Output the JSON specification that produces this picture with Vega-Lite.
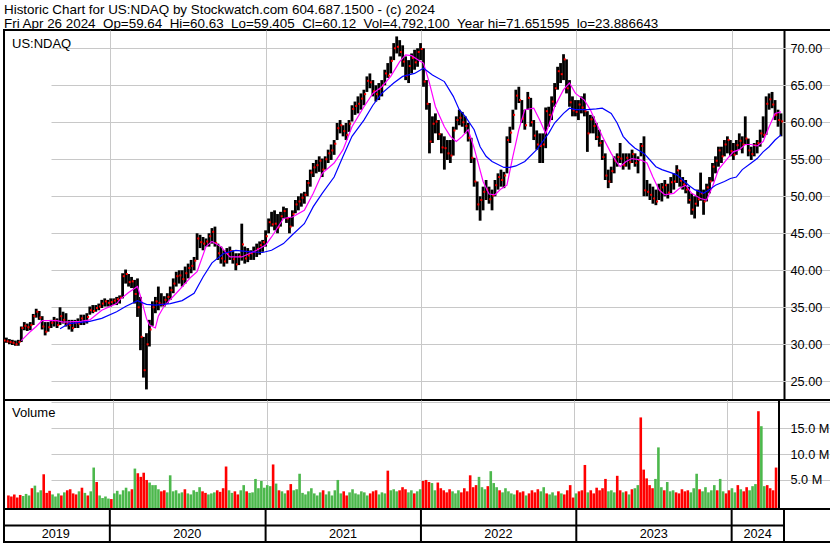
{
"$schema":"https://vega.github.io/schema/vega-lite/v6.json",
"padding":{"left":1,"top":1,"right":1,"bottom":0},
"background":"white",
"spacing":0,
"bounds":"flush",
"config":{"view":{"stroke":"black","strokeWidth":2},"font":"Liberation Sans","axis":{"gridColor":"#c8c8c8","gridWidth":1,"gridOpacity":1,"domain":false,"ticks":false,"tickSize":0,"labelFont":"Liberation Sans","labelFontSize":12.7,"labelColor":"black","labelOverlap":false,"labelFlush":false}},
"datasets":{
"w":[
{"d":"2019-04-26","o":30.7,"h":31.0,"l":30.3,"c":30.5,"v":2.0},
{"d":"2019-05-03","o":30.5,"h":30.9,"l":30.2,"c":30.4,"v":1.8},
{"d":"2019-05-10","o":30.4,"h":30.7,"l":30.0,"c":30.3,"v":2.2},
{"d":"2019-05-17","o":30.3,"h":30.6,"l":29.9,"c":30.2,"v":1.6},
{"d":"2019-05-24","o":30.2,"h":30.5,"l":29.8,"c":30.0,"v":2.1},
{"d":"2019-05-31","o":30.0,"h":30.6,"l":29.8,"c":30.3,"v":1.9},
{"d":"2019-06-07","o":30.3,"h":32.4,"l":30.3,"c":32.2,"v":2.3},
{"d":"2019-06-14","o":32.2,"h":33.0,"l":31.9,"c":32.5,"v":2.0},
{"d":"2019-06-21","o":32.5,"h":32.8,"l":31.8,"c":32.3,"v":3.4},
{"d":"2019-06-28","o":32.3,"h":33.0,"l":31.9,"c":32.6,"v":3.9},
{"d":"2019-07-05","o":32.6,"h":34.1,"l":32.6,"c":33.8,"v":2.6},
{"d":"2019-07-12","o":33.8,"h":34.8,"l":33.6,"c":34.4,"v":3.0},
{"d":"2019-07-19","o":34.4,"h":34.5,"l":33.3,"c":33.6,"v":6.1},
{"d":"2019-07-26","o":33.6,"h":33.8,"l":32.0,"c":32.4,"v":2.5},
{"d":"2019-08-02","o":32.4,"h":33.0,"l":31.2,"c":31.7,"v":2.9},
{"d":"2019-08-09","o":31.7,"h":33.0,"l":31.7,"c":32.3,"v":2.2},
{"d":"2019-08-16","o":32.3,"h":33.3,"l":32.2,"c":32.9,"v":1.8},
{"d":"2019-08-23","o":32.9,"h":33.7,"l":32.4,"c":33.2,"v":2.4},
{"d":"2019-08-30","o":33.2,"h":33.5,"l":32.2,"c":32.6,"v":2.0},
{"d":"2019-09-06","o":32.6,"h":35.0,"l":32.6,"c":33.8,"v":2.6},
{"d":"2019-09-13","o":33.8,"h":34.4,"l":32.8,"c":33.3,"v":3.0},
{"d":"2019-09-20","o":33.3,"h":34.2,"l":32.4,"c":32.7,"v":3.2},
{"d":"2019-09-27","o":32.7,"h":33.3,"l":32.0,"c":32.6,"v":2.4},
{"d":"2019-10-04","o":32.6,"h":33.3,"l":31.7,"c":32.2,"v":2.2},
{"d":"2019-10-11","o":32.2,"h":33.3,"l":32.2,"c":32.9,"v":2.8},
{"d":"2019-10-18","o":32.9,"h":33.5,"l":32.2,"c":32.8,"v":3.5},
{"d":"2019-10-25","o":32.8,"h":34.0,"l":32.6,"c":33.5,"v":2.5},
{"d":"2019-11-01","o":33.5,"h":34.0,"l":32.6,"c":33.1,"v":2.0},
{"d":"2019-11-08","o":33.1,"h":34.2,"l":32.8,"c":33.7,"v":2.8},
{"d":"2019-11-15","o":33.7,"h":35.1,"l":34.0,"c":34.6,"v":7.4},
{"d":"2019-11-22","o":34.6,"h":35.3,"l":34.2,"c":34.5,"v":4.6},
{"d":"2019-11-29","o":34.5,"h":35.3,"l":34.4,"c":34.9,"v":2.0},
{"d":"2019-12-06","o":34.9,"h":35.5,"l":34.6,"c":35.1,"v":1.5},
{"d":"2019-12-13","o":35.1,"h":36.0,"l":34.9,"c":35.5,"v":1.8},
{"d":"2019-12-20","o":35.5,"h":36.2,"l":35.1,"c":35.8,"v":1.4},
{"d":"2019-12-27","o":35.8,"h":36.0,"l":35.1,"c":35.6,"v":1.3},
{"d":"2020-01-03","o":35.6,"h":36.2,"l":35.1,"c":35.7,"v":2.4},
{"d":"2020-01-10","o":35.7,"h":36.2,"l":35.3,"c":35.9,"v":2.9},
{"d":"2020-01-17","o":35.9,"h":36.4,"l":35.3,"c":36.1,"v":2.2},
{"d":"2020-01-24","o":36.1,"h":36.6,"l":35.5,"c":36.3,"v":3.0},
{"d":"2020-01-31","o":36.3,"h":39.6,"l":36.2,"c":39.2,"v":3.5},
{"d":"2020-02-07","o":39.2,"h":40.1,"l":38.2,"c":39.5,"v":2.8},
{"d":"2020-02-14","o":39.5,"h":39.5,"l":37.8,"c":38.4,"v":3.2},
{"d":"2020-02-21","o":38.4,"h":39.1,"l":37.6,"c":38.5,"v":7.2},
{"d":"2020-02-28","o":38.5,"h":38.7,"l":35.5,"c":36.8,"v":6.3},
{"d":"2020-03-06","o":36.8,"h":38.9,"l":33.7,"c":35.0,"v":5.6},
{"d":"2020-03-13","o":35.0,"h":36.4,"l":29.2,"c":31.0,"v":6.4},
{"d":"2020-03-20","o":31.0,"h":31.0,"l":25.5,"c":26.5,"v":5.0},
{"d":"2020-03-27","o":26.5,"h":31.5,"l":23.9,"c":30.0,"v":4.5},
{"d":"2020-04-03","o":30.0,"h":33.3,"l":29.7,"c":32.0,"v":4.0},
{"d":"2020-04-10","o":32.0,"h":35.8,"l":32.5,"c":35.0,"v":4.0},
{"d":"2020-04-17","o":35.0,"h":36.4,"l":34.2,"c":35.8,"v":3.2},
{"d":"2020-04-24","o":35.8,"h":37.8,"l":34.6,"c":35.6,"v":2.8},
{"d":"2020-05-01","o":35.6,"h":36.9,"l":35.1,"c":35.4,"v":3.0},
{"d":"2020-05-08","o":35.4,"h":36.5,"l":35.1,"c":36.0,"v":2.6},
{"d":"2020-05-15","o":36.0,"h":36.9,"l":35.5,"c":36.4,"v":5.9},
{"d":"2020-05-22","o":36.4,"h":37.8,"l":36.0,"c":37.3,"v":2.8},
{"d":"2020-05-29","o":37.3,"h":38.9,"l":36.9,"c":38.2,"v":3.0},
{"d":"2020-06-05","o":38.2,"h":39.8,"l":37.8,"c":39.2,"v":2.4},
{"d":"2020-06-12","o":39.2,"h":40.0,"l":38.2,"c":39.3,"v":2.6},
{"d":"2020-06-19","o":39.3,"h":40.0,"l":37.8,"c":38.8,"v":3.2},
{"d":"2020-06-26","o":38.8,"h":40.5,"l":38.2,"c":39.6,"v":2.4},
{"d":"2020-07-03","o":39.6,"h":40.9,"l":38.9,"c":40.3,"v":2.2},
{"d":"2020-07-10","o":40.3,"h":41.4,"l":39.6,"c":40.6,"v":3.0},
{"d":"2020-07-17","o":40.6,"h":41.8,"l":40.0,"c":41.3,"v":2.7},
{"d":"2020-07-24","o":41.3,"h":45.0,"l":41.4,"c":44.3,"v":3.6},
{"d":"2020-07-31","o":44.3,"h":44.8,"l":43.0,"c":43.8,"v":2.8},
{"d":"2020-08-07","o":43.8,"h":44.5,"l":42.7,"c":43.6,"v":2.5},
{"d":"2020-08-14","o":43.6,"h":44.3,"l":43.2,"c":43.9,"v":2.2},
{"d":"2020-08-21","o":43.9,"h":45.0,"l":43.2,"c":44.6,"v":2.4},
{"d":"2020-08-28","o":44.6,"h":45.7,"l":43.6,"c":45.2,"v":2.6},
{"d":"2020-09-04","o":45.2,"h":45.9,"l":43.2,"c":43.7,"v":3.0},
{"d":"2020-09-11","o":43.7,"h":43.6,"l":41.4,"c":42.3,"v":2.7},
{"d":"2020-09-18","o":42.3,"h":43.2,"l":40.9,"c":41.6,"v":3.4},
{"d":"2020-09-25","o":41.6,"h":42.7,"l":40.5,"c":41.2,"v":7.6},
{"d":"2020-10-02","o":41.2,"h":43.0,"l":40.9,"c":42.2,"v":3.0},
{"d":"2020-10-09","o":42.2,"h":43.2,"l":41.4,"c":42.6,"v":2.5},
{"d":"2020-10-16","o":42.6,"h":42.7,"l":40.9,"c":41.5,"v":2.8},
{"d":"2020-10-23","o":41.5,"h":42.3,"l":40.0,"c":40.8,"v":2.2},
{"d":"2020-10-30","o":40.8,"h":42.3,"l":40.7,"c":41.9,"v":3.0},
{"d":"2020-11-06","o":41.9,"h":46.3,"l":41.3,"c":43.5,"v":4.0},
{"d":"2020-11-13","o":43.5,"h":43.2,"l":40.9,"c":41.6,"v":2.8},
{"d":"2020-11-20","o":41.6,"h":43.0,"l":41.1,"c":42.0,"v":2.5},
{"d":"2020-11-27","o":42.0,"h":42.7,"l":41.4,"c":42.3,"v":2.6},
{"d":"2020-12-04","o":42.3,"h":43.2,"l":41.4,"c":42.5,"v":5.2},
{"d":"2020-12-11","o":42.5,"h":43.6,"l":41.8,"c":42.9,"v":3.4},
{"d":"2020-12-18","o":42.9,"h":43.9,"l":42.1,"c":43.4,"v":4.8},
{"d":"2020-12-25","o":43.4,"h":44.1,"l":42.5,"c":43.8,"v":3.5},
{"d":"2021-01-01","o":43.8,"h":45.4,"l":43.2,"c":44.6,"v":4.0},
{"d":"2021-01-08","o":44.6,"h":47.0,"l":45.0,"c":46.5,"v":3.8},
{"d":"2021-01-15","o":46.5,"h":47.9,"l":45.9,"c":46.2,"v":8.0},
{"d":"2021-01-22","o":46.2,"h":48.1,"l":45.4,"c":46.3,"v":4.3},
{"d":"2021-01-29","o":46.3,"h":47.6,"l":45.0,"c":45.8,"v":3.0},
{"d":"2021-02-05","o":45.8,"h":47.9,"l":45.9,"c":47.3,"v":2.8},
{"d":"2021-02-12","o":47.3,"h":48.6,"l":47.0,"c":48.0,"v":2.4},
{"d":"2021-02-19","o":48.0,"h":48.4,"l":46.4,"c":47.0,"v":3.0},
{"d":"2021-02-26","o":47.0,"h":47.2,"l":45.0,"c":45.9,"v":4.2},
{"d":"2021-03-05","o":45.9,"h":48.1,"l":45.9,"c":47.6,"v":3.0},
{"d":"2021-03-12","o":47.6,"h":49.5,"l":47.7,"c":48.9,"v":3.2},
{"d":"2021-03-19","o":48.9,"h":50.0,"l":48.1,"c":49.3,"v":6.2},
{"d":"2021-03-26","o":49.3,"h":50.4,"l":48.6,"c":49.8,"v":2.5},
{"d":"2021-04-02","o":49.8,"h":50.6,"l":49.0,"c":50.2,"v":2.2},
{"d":"2021-04-09","o":50.2,"h":52.2,"l":50.0,"c":51.8,"v":2.8},
{"d":"2021-04-16","o":51.8,"h":53.6,"l":51.3,"c":53.2,"v":3.4},
{"d":"2021-04-23","o":53.2,"h":54.5,"l":52.6,"c":53.9,"v":2.4},
{"d":"2021-04-30","o":53.9,"h":54.9,"l":53.1,"c":54.2,"v":2.0},
{"d":"2021-05-07","o":54.2,"h":55.4,"l":53.3,"c":54.8,"v":2.6},
{"d":"2021-05-14","o":54.8,"h":55.1,"l":52.6,"c":53.6,"v":3.0},
{"d":"2021-05-21","o":53.6,"h":55.4,"l":53.6,"c":55.0,"v":2.2},
{"d":"2021-05-28","o":55.0,"h":56.3,"l":54.5,"c":55.8,"v":2.8},
{"d":"2021-06-04","o":55.8,"h":57.0,"l":54.9,"c":56.2,"v":2.0},
{"d":"2021-06-11","o":56.2,"h":57.6,"l":55.6,"c":57.1,"v":3.0},
{"d":"2021-06-18","o":57.1,"h":59.9,"l":57.6,"c":59.2,"v":5.0},
{"d":"2021-06-25","o":59.2,"h":60.3,"l":58.5,"c":59.6,"v":2.4},
{"d":"2021-07-02","o":59.6,"h":59.6,"l":58.1,"c":58.8,"v":2.8},
{"d":"2021-07-09","o":58.8,"h":59.9,"l":57.6,"c":58.3,"v":2.0},
{"d":"2021-07-16","o":58.3,"h":60.3,"l":58.7,"c":59.8,"v":2.6},
{"d":"2021-07-23","o":59.8,"h":62.3,"l":60.1,"c":61.8,"v":3.2},
{"d":"2021-07-30","o":61.8,"h":62.8,"l":61.0,"c":62.2,"v":2.4},
{"d":"2021-08-06","o":62.2,"h":63.5,"l":61.2,"c":62.5,"v":2.2},
{"d":"2021-08-13","o":62.5,"h":63.9,"l":61.7,"c":63.2,"v":2.8},
{"d":"2021-08-20","o":63.2,"h":64.4,"l":62.3,"c":63.8,"v":2.6},
{"d":"2021-08-27","o":63.8,"h":66.2,"l":64.1,"c":65.6,"v":2.0},
{"d":"2021-09-03","o":65.6,"h":66.6,"l":64.6,"c":65.4,"v":2.4},
{"d":"2021-09-10","o":65.4,"h":65.7,"l":63.5,"c":64.2,"v":2.8},
{"d":"2021-09-17","o":64.2,"h":65.0,"l":62.8,"c":63.8,"v":3.0},
{"d":"2021-09-24","o":63.8,"h":65.3,"l":63.0,"c":64.5,"v":2.2},
{"d":"2021-10-01","o":64.5,"h":65.7,"l":63.5,"c":65.0,"v":2.6},
{"d":"2021-10-08","o":65.0,"h":67.1,"l":65.0,"c":66.6,"v":2.4},
{"d":"2021-10-15","o":66.6,"h":68.0,"l":66.0,"c":66.3,"v":6.8},
{"d":"2021-10-22","o":66.3,"h":68.9,"l":66.6,"c":68.3,"v":3.0},
{"d":"2021-10-29","o":68.3,"h":70.7,"l":68.4,"c":70.0,"v":3.2},
{"d":"2021-11-05","o":70.0,"h":71.6,"l":69.3,"c":70.2,"v":2.8},
{"d":"2021-11-12","o":70.2,"h":71.1,"l":68.9,"c":69.5,"v":3.0},
{"d":"2021-11-19","o":69.5,"h":70.4,"l":67.5,"c":68.2,"v":3.6},
{"d":"2021-11-26","o":68.2,"h":68.9,"l":65.7,"c":66.3,"v":3.2},
{"d":"2021-12-03","o":66.3,"h":68.4,"l":65.3,"c":67.6,"v":2.6},
{"d":"2021-12-10","o":67.6,"h":69.3,"l":66.6,"c":68.7,"v":3.0},
{"d":"2021-12-17","o":68.7,"h":69.8,"l":67.1,"c":68.1,"v":2.4},
{"d":"2021-12-24","o":68.1,"h":70.0,"l":67.5,"c":69.5,"v":2.8},
{"d":"2021-12-31","o":69.5,"h":70.7,"l":68.4,"c":69.9,"v":3.2},
{"d":"2022-01-07","o":69.9,"h":70.0,"l":64.8,"c":65.5,"v":4.8},
{"d":"2022-01-14","o":65.5,"h":65.7,"l":61.7,"c":62.5,"v":5.0},
{"d":"2022-01-21","o":62.5,"h":62.6,"l":55.8,"c":57.4,"v":4.6},
{"d":"2022-01-28","o":57.4,"h":60.8,"l":57.2,"c":59.8,"v":4.4},
{"d":"2022-02-04","o":59.8,"h":61.2,"l":58.5,"c":60.1,"v":3.0},
{"d":"2022-02-11","o":60.1,"h":60.3,"l":57.6,"c":58.4,"v":4.5},
{"d":"2022-02-18","o":58.4,"h":58.5,"l":55.8,"c":56.6,"v":3.4},
{"d":"2022-02-25","o":56.6,"h":58.1,"l":53.6,"c":56.5,"v":3.0},
{"d":"2022-03-04","o":56.5,"h":57.6,"l":54.9,"c":55.8,"v":2.6},
{"d":"2022-03-11","o":55.8,"h":57.6,"l":54.5,"c":55.5,"v":3.2},
{"d":"2022-03-18","o":55.5,"h":59.4,"l":55.5,"c":58.9,"v":2.8},
{"d":"2022-03-25","o":58.9,"h":60.8,"l":59.0,"c":60.3,"v":2.4},
{"d":"2022-04-01","o":60.3,"h":61.7,"l":59.6,"c":60.6,"v":3.0},
{"d":"2022-04-08","o":60.6,"h":61.4,"l":59.4,"c":60.0,"v":2.6},
{"d":"2022-04-15","o":60.0,"h":60.8,"l":58.5,"c":59.5,"v":3.4},
{"d":"2022-04-22","o":59.5,"h":59.9,"l":57.4,"c":57.9,"v":2.8},
{"d":"2022-04-29","o":57.9,"h":57.9,"l":54.5,"c":55.2,"v":5.9},
{"d":"2022-05-06","o":55.2,"h":55.2,"l":51.3,"c":52.0,"v":3.6},
{"d":"2022-05-13","o":52.0,"h":52.0,"l":48.1,"c":48.9,"v":4.0},
{"d":"2022-05-20","o":48.9,"h":50.0,"l":46.7,"c":49.5,"v":5.6},
{"d":"2022-05-27","o":49.5,"h":51.3,"l":48.1,"c":50.6,"v":3.6},
{"d":"2022-06-03","o":50.6,"h":52.2,"l":49.5,"c":50.9,"v":3.2},
{"d":"2022-06-10","o":50.9,"h":51.3,"l":49.0,"c":49.6,"v":3.8},
{"d":"2022-06-17","o":49.6,"h":50.9,"l":48.1,"c":50.1,"v":6.7},
{"d":"2022-06-24","o":50.1,"h":52.2,"l":50.0,"c":51.5,"v":4.4},
{"d":"2022-07-01","o":51.5,"h":53.1,"l":50.9,"c":52.6,"v":3.6},
{"d":"2022-07-08","o":52.6,"h":53.6,"l":51.3,"c":52.2,"v":3.0},
{"d":"2022-07-15","o":52.2,"h":53.3,"l":51.1,"c":52.8,"v":2.6},
{"d":"2022-07-22","o":52.8,"h":58.1,"l":53.1,"c":57.6,"v":3.4},
{"d":"2022-07-29","o":57.6,"h":59.4,"l":57.2,"c":58.6,"v":2.8},
{"d":"2022-08-05","o":58.6,"h":61.7,"l":59.0,"c":61.0,"v":2.4},
{"d":"2022-08-12","o":61.0,"h":64.4,"l":61.7,"c":63.6,"v":2.2},
{"d":"2022-08-19","o":63.6,"h":64.8,"l":62.6,"c":63.0,"v":3.0},
{"d":"2022-08-26","o":63.0,"h":63.0,"l":59.9,"c":60.5,"v":2.6},
{"d":"2022-09-02","o":60.5,"h":61.7,"l":59.0,"c":59.6,"v":2.8},
{"d":"2022-09-09","o":59.6,"h":64.1,"l":61.7,"c":63.3,"v":2.0},
{"d":"2022-09-16","o":63.3,"h":63.3,"l":59.4,"c":60.0,"v":2.4},
{"d":"2022-09-23","o":60.0,"h":60.3,"l":57.6,"c":58.2,"v":3.0},
{"d":"2022-09-30","o":58.2,"h":58.9,"l":56.3,"c":57.0,"v":2.6},
{"d":"2022-10-07","o":57.0,"h":58.5,"l":54.5,"c":56.8,"v":3.2},
{"d":"2022-10-14","o":56.8,"h":58.5,"l":54.5,"c":57.0,"v":2.8},
{"d":"2022-10-21","o":57.0,"h":62.0,"l":56.5,"c":61.5,"v":3.6},
{"d":"2022-10-28","o":61.5,"h":62.1,"l":59.4,"c":61.0,"v":2.4},
{"d":"2022-11-04","o":61.0,"h":63.5,"l":60.3,"c":62.8,"v":2.2},
{"d":"2022-11-11","o":62.8,"h":65.3,"l":62.1,"c":64.6,"v":2.6},
{"d":"2022-11-18","o":64.6,"h":67.5,"l":64.4,"c":66.9,"v":2.0},
{"d":"2022-11-25","o":66.9,"h":68.0,"l":65.3,"c":66.5,"v":2.8},
{"d":"2022-12-02","o":66.5,"h":69.2,"l":65.7,"c":68.5,"v":2.4},
{"d":"2022-12-09","o":68.5,"h":68.5,"l":63.9,"c":64.6,"v":2.2},
{"d":"2022-12-16","o":64.6,"h":65.7,"l":62.1,"c":62.7,"v":3.0},
{"d":"2022-12-23","o":62.7,"h":63.5,"l":60.8,"c":61.6,"v":4.0},
{"d":"2022-12-30","o":61.6,"h":63.0,"l":60.8,"c":61.4,"v":1.6},
{"d":"2023-01-06","o":61.4,"h":63.0,"l":60.3,"c":62.4,"v":2.4},
{"d":"2023-01-13","o":62.4,"h":63.5,"l":61.2,"c":62.0,"v":2.8},
{"d":"2023-01-20","o":62.0,"h":63.9,"l":60.8,"c":61.5,"v":3.0},
{"d":"2023-01-27","o":61.5,"h":61.5,"l":56.0,"c":58.5,"v":7.9},
{"d":"2023-02-03","o":58.5,"h":61.0,"l":58.5,"c":60.4,"v":2.6},
{"d":"2023-02-10","o":60.4,"h":60.8,"l":58.5,"c":59.5,"v":3.0},
{"d":"2023-02-17","o":59.5,"h":59.9,"l":57.6,"c":58.0,"v":2.4},
{"d":"2023-02-24","o":58.0,"h":59.0,"l":56.7,"c":57.2,"v":3.5},
{"d":"2023-03-03","o":57.2,"h":57.6,"l":54.9,"c":55.3,"v":3.0},
{"d":"2023-03-10","o":55.3,"h":55.8,"l":52.2,"c":52.8,"v":3.4},
{"d":"2023-03-17","o":52.8,"h":53.6,"l":51.1,"c":52.0,"v":5.2},
{"d":"2023-03-24","o":52.0,"h":54.0,"l":51.8,"c":53.4,"v":2.8},
{"d":"2023-03-31","o":53.4,"h":55.4,"l":53.1,"c":54.8,"v":3.0},
{"d":"2023-04-07","o":54.8,"h":55.8,"l":54.0,"c":55.3,"v":2.6},
{"d":"2023-04-14","o":55.3,"h":57.2,"l":54.5,"c":55.1,"v":5.8},
{"d":"2023-04-21","o":55.1,"h":55.8,"l":53.6,"c":54.2,"v":3.0},
{"d":"2023-04-28","o":54.2,"h":55.8,"l":54.0,"c":55.2,"v":2.6},
{"d":"2023-05-05","o":55.2,"h":55.8,"l":53.6,"c":54.6,"v":2.8},
{"d":"2023-05-12","o":54.6,"h":56.3,"l":54.5,"c":55.7,"v":2.2},
{"d":"2023-05-19","o":55.7,"h":55.8,"l":54.0,"c":54.5,"v":3.2},
{"d":"2023-05-26","o":54.5,"h":55.4,"l":53.1,"c":54.9,"v":3.4},
{"d":"2023-06-02","o":54.9,"h":57.2,"l":55.4,"c":56.8,"v":4.0},
{"d":"2023-06-09","o":56.8,"h":58.1,"l":50.0,"c":50.8,"v":17.1},
{"d":"2023-06-16","o":50.8,"h":52.2,"l":50.0,"c":50.6,"v":7.0},
{"d":"2023-06-23","o":50.6,"h":51.7,"l":49.5,"c":50.2,"v":5.3},
{"d":"2023-06-30","o":50.2,"h":51.3,"l":49.0,"c":49.7,"v":4.0},
{"d":"2023-07-07","o":49.7,"h":50.9,"l":48.8,"c":49.3,"v":3.4},
{"d":"2023-07-14","o":49.3,"h":51.7,"l":49.5,"c":50.8,"v":5.2},
{"d":"2023-07-21","o":50.8,"h":51.8,"l":49.3,"c":51.2,"v":11.3},
{"d":"2023-07-28","o":51.2,"h":52.2,"l":50.0,"c":51.5,"v":3.6},
{"d":"2023-08-04","o":51.5,"h":51.7,"l":49.7,"c":50.5,"v":3.0},
{"d":"2023-08-11","o":50.5,"h":52.6,"l":50.4,"c":51.9,"v":4.6},
{"d":"2023-08-18","o":51.9,"h":53.1,"l":50.9,"c":52.0,"v":2.8},
{"d":"2023-08-25","o":52.0,"h":54.2,"l":51.8,"c":53.5,"v":3.0},
{"d":"2023-09-01","o":53.5,"h":53.6,"l":51.3,"c":52.1,"v":2.6},
{"d":"2023-09-08","o":52.1,"h":52.6,"l":50.9,"c":51.6,"v":2.4},
{"d":"2023-09-15","o":51.6,"h":52.2,"l":50.4,"c":50.9,"v":3.2},
{"d":"2023-09-22","o":50.9,"h":51.3,"l":49.0,"c":49.5,"v":2.8},
{"d":"2023-09-29","o":49.5,"h":50.4,"l":47.5,"c":48.2,"v":3.0},
{"d":"2023-10-06","o":48.2,"h":50.0,"l":47.0,"c":49.0,"v":2.6},
{"d":"2023-10-13","o":49.0,"h":50.9,"l":48.6,"c":49.6,"v":3.4},
{"d":"2023-10-20","o":49.6,"h":53.2,"l":49.4,"c":50.4,"v":6.2},
{"d":"2023-10-27","o":50.4,"h":50.9,"l":47.5,"c":49.3,"v":3.2},
{"d":"2023-11-03","o":49.3,"h":51.7,"l":49.3,"c":51.2,"v":2.8},
{"d":"2023-11-10","o":51.2,"h":52.6,"l":50.4,"c":52.0,"v":3.6},
{"d":"2023-11-17","o":52.0,"h":54.5,"l":52.0,"c":54.0,"v":2.6},
{"d":"2023-11-24","o":54.0,"h":55.4,"l":53.1,"c":54.8,"v":3.0},
{"d":"2023-12-01","o":54.8,"h":56.7,"l":54.0,"c":56.2,"v":4.0},
{"d":"2023-12-08","o":56.2,"h":56.7,"l":54.5,"c":55.4,"v":3.0},
{"d":"2023-12-15","o":55.4,"h":57.6,"l":55.4,"c":57.0,"v":5.2},
{"d":"2023-12-22","o":57.0,"h":58.1,"l":55.8,"c":57.6,"v":2.8},
{"d":"2023-12-29","o":57.6,"h":57.6,"l":55.4,"c":56.1,"v":2.4},
{"d":"2024-01-05","o":56.1,"h":57.2,"l":54.9,"c":55.6,"v":3.0},
{"d":"2024-01-12","o":55.6,"h":57.6,"l":55.6,"c":56.9,"v":3.4},
{"d":"2024-01-19","o":56.9,"h":58.5,"l":56.3,"c":57.5,"v":2.6},
{"d":"2024-01-26","o":57.5,"h":58.1,"l":55.8,"c":57.0,"v":4.0},
{"d":"2024-02-02","o":57.0,"h":60.8,"l":57.0,"c":57.8,"v":3.2},
{"d":"2024-02-09","o":57.8,"h":57.8,"l":55.4,"c":56.2,"v":2.8},
{"d":"2024-02-16","o":56.2,"h":56.7,"l":54.9,"c":55.7,"v":3.6},
{"d":"2024-02-23","o":55.7,"h":57.2,"l":55.4,"c":56.9,"v":3.0},
{"d":"2024-03-01","o":56.9,"h":57.6,"l":55.8,"c":57.2,"v":3.8},
{"d":"2024-03-08","o":57.2,"h":59.0,"l":56.7,"c":58.5,"v":4.2},
{"d":"2024-03-15","o":58.5,"h":60.8,"l":57.9,"c":58.3,"v":18.3},
{"d":"2024-03-22","o":58.3,"h":63.5,"l":58.3,"c":62.5,"v":15.4},
{"d":"2024-03-29","o":62.5,"h":63.9,"l":61.7,"c":63.1,"v":3.8},
{"d":"2024-04-05","o":63.1,"h":64.1,"l":61.9,"c":62.4,"v":4.0},
{"d":"2024-04-12","o":62.4,"h":63.0,"l":60.3,"c":61.0,"v":3.4},
{"d":"2024-04-19","o":61.0,"h":61.7,"l":59.4,"c":60.3,"v":3.0},
{"d":"2024-04-26","o":60.3,"h":61.2,"l":58.1,"c":60.12,"v":7.4}
],
"ma1":[
{"d":"2019-06-07","v":30.5},{"d":"2019-06-28","v":31.7},{"d":"2019-07-12","v":32.4},{"d":"2019-07-26","v":33.2},{"d":"2019-08-30","v":33.2},{"d":"2019-09-13","v":33.0},{"d":"2019-10-25","v":33.1},{"d":"2019-11-15","v":33.3},{"d":"2019-12-13","v":34.6},{"d":"2020-01-17","v":35.5},{"d":"2020-01-24","v":36.0},{"d":"2020-02-14","v":37.0},{"d":"2020-03-06","v":37.8},{"d":"2020-03-13","v":36.5},{"d":"2020-03-27","v":33.5},{"d":"2020-04-03","v":32.6},{"d":"2020-04-17","v":32.2},{"d":"2020-04-24","v":33.8},{"d":"2020-05-08","v":35.2},{"d":"2020-06-05","v":36.9},{"d":"2020-07-10","v":39.1},{"d":"2020-07-24","v":39.8},{"d":"2020-08-14","v":43.2},{"d":"2020-08-28","v":43.9},{"d":"2020-09-18","v":43.2},{"d":"2020-10-09","v":41.8},{"d":"2020-11-06","v":41.8},{"d":"2020-12-11","v":42.7},{"d":"2021-01-01","v":43.4},{"d":"2021-01-15","v":44.5},{"d":"2021-02-12","v":47.0},{"d":"2021-03-05","v":47.2},{"d":"2021-04-02","v":48.1},{"d":"2021-04-23","v":50.4},{"d":"2021-05-14","v":53.1},{"d":"2021-06-11","v":54.5},{"d":"2021-07-02","v":56.3},{"d":"2021-07-23","v":59.4},{"d":"2021-08-20","v":62.1},{"d":"2021-09-10","v":63.9},{"d":"2021-10-01","v":64.8},{"d":"2021-10-22","v":66.2},{"d":"2021-11-12","v":68.2},{"d":"2021-11-26","v":69.1},{"d":"2021-12-10","v":69.0},{"d":"2021-12-31","v":68.2},{"d":"2022-01-07","v":68.0},{"d":"2022-01-21","v":65.3},{"d":"2022-02-04","v":62.1},{"d":"2022-02-25","v":59.4},{"d":"2022-03-11","v":58.1},{"d":"2022-03-25","v":57.4},{"d":"2022-04-08","v":58.1},{"d":"2022-04-22","v":59.0},{"d":"2022-05-06","v":56.5},{"d":"2022-05-27","v":52.0},{"d":"2022-06-10","v":50.3},{"d":"2022-06-24","v":50.2},{"d":"2022-07-08","v":51.0},{"d":"2022-07-22","v":51.5},{"d":"2022-08-05","v":55.4},{"d":"2022-08-19","v":59.0},{"d":"2022-09-02","v":61.7},{"d":"2022-09-23","v":61.9},{"d":"2022-10-07","v":60.3},{"d":"2022-10-21","v":58.5},{"d":"2022-10-28","v":59.5},{"d":"2022-11-11","v":62.1},{"d":"2022-12-02","v":64.4},{"d":"2022-12-16","v":65.3},{"d":"2022-12-30","v":63.9},{"d":"2023-01-20","v":63.0},{"d":"2023-02-03","v":61.7},{"d":"2023-02-17","v":59.9},{"d":"2023-03-03","v":58.1},{"d":"2023-03-24","v":55.8},{"d":"2023-04-07","v":54.5},{"d":"2023-04-14","v":54.0},{"d":"2023-04-28","v":54.7},{"d":"2023-05-12","v":55.1},{"d":"2023-06-02","v":54.9},{"d":"2023-06-16","v":54.5},{"d":"2023-06-30","v":52.6},{"d":"2023-07-14","v":50.9},{"d":"2023-07-28","v":50.2},{"d":"2023-08-18","v":50.4},{"d":"2023-09-01","v":51.1},{"d":"2023-09-15","v":51.5},{"d":"2023-09-29","v":50.4},{"d":"2023-10-20","v":49.7},{"d":"2023-11-03","v":49.5},{"d":"2023-11-17","v":51.3},{"d":"2023-12-01","v":53.6},{"d":"2023-12-22","v":55.1},{"d":"2024-01-05","v":56.0},{"d":"2024-01-19","v":56.3},{"d":"2024-02-02","v":57.0},{"d":"2024-02-16","v":57.0},{"d":"2024-03-01","v":56.8},{"d":"2024-03-15","v":57.4},{"d":"2024-03-29","v":59.4},{"d":"2024-04-12","v":61.2},{"d":"2024-04-26","v":61.4}
],
"ma2":[
{"d":"2019-09-06","v":32.1},{"d":"2019-09-27","v":32.8},{"d":"2019-11-15","v":33.1},{"d":"2019-12-13","v":33.5},{"d":"2020-01-17","v":34.4},{"d":"2020-02-07","v":35.1},{"d":"2020-03-06","v":35.9},{"d":"2020-03-27","v":35.4},{"d":"2020-04-17","v":35.3},{"d":"2020-05-22","v":35.5},{"d":"2020-06-19","v":35.9},{"d":"2020-07-17","v":36.9},{"d":"2020-08-07","v":39.1},{"d":"2020-08-28","v":41.0},{"d":"2020-09-25","v":42.3},{"d":"2020-10-23","v":42.7},{"d":"2020-11-27","v":42.5},{"d":"2020-12-25","v":42.4},{"d":"2021-01-15","v":42.7},{"d":"2021-02-12","v":43.6},{"d":"2021-03-05","v":44.8},{"d":"2021-04-02","v":46.3},{"d":"2021-04-23","v":48.6},{"d":"2021-05-14","v":50.4},{"d":"2021-06-11","v":52.6},{"d":"2021-07-02","v":55.4},{"d":"2021-07-23","v":58.1},{"d":"2021-08-20","v":60.3},{"d":"2021-09-10","v":62.3},{"d":"2021-10-01","v":63.9},{"d":"2021-10-29","v":65.3},{"d":"2021-11-19","v":66.2},{"d":"2021-12-17","v":66.6},{"d":"2022-01-07","v":67.3},{"d":"2022-01-28","v":66.4},{"d":"2022-02-25","v":65.5},{"d":"2022-03-18","v":63.5},{"d":"2022-04-01","v":61.7},{"d":"2022-04-15","v":60.8},{"d":"2022-05-06","v":59.0},{"d":"2022-05-20","v":56.7},{"d":"2022-06-03","v":55.4},{"d":"2022-06-17","v":54.7},{"d":"2022-07-15","v":53.9},{"d":"2022-07-29","v":53.9},{"d":"2022-08-12","v":54.1},{"d":"2022-09-02","v":54.7},{"d":"2022-09-30","v":56.3},{"d":"2022-10-14","v":57.4},{"d":"2022-10-28","v":58.5},{"d":"2022-11-11","v":59.9},{"d":"2022-12-02","v":61.2},{"d":"2022-12-16","v":61.9},{"d":"2022-12-30","v":61.7},{"d":"2023-01-27","v":61.7},{"d":"2023-02-17","v":61.8},{"d":"2023-03-03","v":61.9},{"d":"2023-03-24","v":61.2},{"d":"2023-04-07","v":59.9},{"d":"2023-04-21","v":58.1},{"d":"2023-05-05","v":57.2},{"d":"2023-05-19","v":56.5},{"d":"2023-06-09","v":55.8},{"d":"2023-06-23","v":54.9},{"d":"2023-07-07","v":54.0},{"d":"2023-07-21","v":53.6},{"d":"2023-08-11","v":53.2},{"d":"2023-08-25","v":52.9},{"d":"2023-09-08","v":52.2},{"d":"2023-09-22","v":51.5},{"d":"2023-10-06","v":50.9},{"d":"2023-10-27","v":50.4},{"d":"2023-11-10","v":50.9},{"d":"2023-11-24","v":51.5},{"d":"2023-12-15","v":52.0},{"d":"2023-12-29","v":52.4},{"d":"2024-01-12","v":52.6},{"d":"2024-01-26","v":53.6},{"d":"2024-02-16","v":54.5},{"d":"2024-03-01","v":55.1},{"d":"2024-03-15","v":56.0},{"d":"2024-03-29","v":56.7},{"d":"2024-04-12","v":57.6},{"d":"2024-04-26","v":58.3}
],
"years":[
{"yr":"2019","s":"2019-01-01","m":"2019-08-27"},
{"yr":"2020","s":"2020-01-01","m":"2020-07-01"},
{"yr":"2021","s":"2021-01-01","m":"2021-07-02"},
{"yr":"2022","s":"2022-01-01","m":"2022-07-02"},
{"yr":"2023","s":"2023-01-01","m":"2023-07-02"},
{"yr":"2024","s":"2024-01-01","m":"2024-03-02"}
]
},
"vconcat":[
{
"width":827,"height":29,
"data":{"values":[]},
"mark":"point",
"encoding":{},
"title":{"text":["Historic Chart for US:NDAQ by Stockwatch.com 604.687.1500 - (c) 2024","Fri Apr 26 2024 \u00a0Op=59.64 \u00a0Hi=60.63 \u00a0Lo=59.405 \u00a0Cl=60.12 \u00a0Vol=4,792,100 \u00a0Year hi=71.651595 \u00a0lo=23.886643"],"anchor":"start","frame":"group","orient":"top","offset":-29,"font":"Liberation Sans","fontSize":13.4,"fontWeight":"normal","lineHeight":14,"color":"black","dx":0}
},
{
"width":827,"height":370,
"title":{"text":"US:NDAQ","anchor":"start","frame":"group","orient":"top","offset":-20.7,"font":"Liberation Sans","fontSize":13,"fontWeight":"normal","color":"black","dx":8},
"layer":[
{"data":{"name":"w"},"mark":{"type":"rule","color":"black","strokeWidth":2.8,"clip":true},
"encoding":{
"x":{"field":"d","type":"temporal","scale":{"type":"utc","domain":[{"year":2019,"month":4,"date":25,"utc":true},{"year":2024,"month":5,"date":3,"utc":true}],"range":[-1,780],"nice":false},"axis":{"values":[{"year":2020,"month":1,"date":1,"utc":true},{"year":2021,"month":1,"date":1,"utc":true},{"year":2022,"month":1,"date":1,"utc":true},{"year":2023,"month":1,"date":1,"utc":true},{"year":2024,"month":1,"date":1,"utc":true},{"year":2024,"month":5,"date":3,"utc":true}],"grid":true,"gridColor":{"condition":{"test":"datum.value > 1710000000000","value":"black"},"value":"#c8c8c8"},"gridWidth":{"condition":{"test":"datum.value > 1710000000000","value":2},"value":1},"labels":false,"ticks":false,"domain":false,"title":null}},
"y":{"field":"l","type":"quantitative","scale":{"domain":[22.47,72.47],"nice":false,"zero":false},"axis":{"orient":"right","values":[25,27.5,30,32.5,35,37.5,40,42.5,45,47.5,50,52.5,55,57.5,60,62.5,65,67.5,70],"format":".2f","labelPadding":-41,"labelAlign":"left","grid":true,"title":null}},
"y2":{"field":"h"}}},
{"data":{"name":"w"},"mark":{"type":"square","size":4,"color":"#ff0000","opacity":1,"xOffset":1.2,"clip":true},"encoding":{"x":{"field":"d","type":"temporal"},"y":{"field":"c","type":"quantitative"}}},
{"data":{"name":"ma1"},"mark":{"type":"line","color":"#ff00ff","strokeWidth":1.2,"clip":true},"encoding":{"x":{"field":"d","type":"temporal"},"y":{"field":"v","type":"quantitative"}}},
{"data":{"name":"ma2"},"mark":{"type":"line","color":"#0000ff","strokeWidth":1.2,"clip":true},"encoding":{"x":{"field":"d","type":"temporal"},"y":{"field":"v","type":"quantitative"}}}
]
},
{
"width":827,"height":109,
"title":{"text":"Volume","anchor":"start","frame":"group","orient":"top","offset":-23.9,"font":"Liberation Sans","fontSize":13,"fontWeight":"normal","color":"black","dx":8},
"layer":[
{"data":{"name":"w"},"mark":{"type":"bar","width":2.6,"clip":true},
"encoding":{
"x":{"field":"d","type":"temporal","scale":{"type":"utc","domain":[{"year":2019,"month":4,"date":25,"utc":true},{"year":2024,"month":5,"date":3,"utc":true}],"range":[-1,780],"nice":false},"axis":{"values":[{"year":2020,"month":1,"date":1,"utc":true},{"year":2021,"month":1,"date":1,"utc":true},{"year":2022,"month":1,"date":1,"utc":true},{"year":2023,"month":1,"date":1,"utc":true},{"year":2024,"month":1,"date":1,"utc":true}],"grid":true,"labels":false,"ticks":false,"domain":false,"title":null}},
"y":{"field":"v","type":"quantitative","scale":{"domain":[-0.62,20.47],"nice":false,"zero":false},"axis":{"orient":"right","values":[5,10,15,20],"labelExpr":"datum.value >= 20 ? '' : format(datum.value, '.1f') + ' M'","labelPadding":-41,"labelAlign":"left","grid":true,"title":null}},
"y2":{"datum":-0.62},
"color":{"condition":{"test":"datum.c >= datum.o","value":"#4cb84c"},"value":"#ff0000"}}},
{"data":{"values":[{}]},"mark":{"type":"rule","color":"black","strokeWidth":2},"encoding":{"x":{"datum":{"year":2024,"month":5,"date":3,"utc":true}}}}
]
},
{
"width":827,"height":33,
"data":{"name":"years"},
"layer":[
{"mark":{"type":"rule","color":"black","strokeWidth":2,"clip":true},"encoding":{"x":{"field":"s","type":"temporal","scale":{"type":"utc","domain":[{"year":2019,"month":4,"date":25,"utc":true},{"year":2024,"month":5,"date":3,"utc":true}],"range":[-1,780],"nice":false},"axis":null}}},
{"mark":{"type":"text","font":"Liberation Sans","fontSize":12.7,"color":"black","baseline":"middle","align":"center"},"encoding":{"x":{"field":"m","type":"temporal"},"y":{"datum":0.5,"type":"quantitative","scale":{"domain":[0,2],"nice":false,"zero":false},"axis":null},"text":{"field":"yr"}}},
{"data":{"values":[{}]},"mark":{"type":"rule","color":"black","strokeWidth":2},"encoding":{"x":{"datum":{"year":2019,"month":4,"date":25,"utc":true}},"x2":{"datum":{"year":2024,"month":5,"date":3,"utc":true}},"y":{"datum":1}}},
{"data":{"values":[{}]},"mark":{"type":"rule","color":"black","strokeWidth":2},"encoding":{"x":{"datum":{"year":2024,"month":5,"date":3,"utc":true}}}}
]
}
]
}
